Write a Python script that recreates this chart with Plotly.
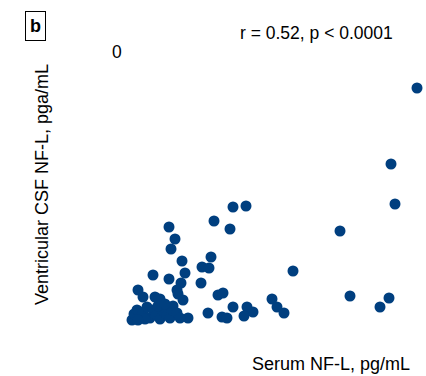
import plotly.graph_objects as go

serum_nfl = [148.5, 135.5, 137.5, 110, 86.5, 115, 134.5, 130, 63, 56.5, 47, 55, 24.5, 27.5, 25.5,
             45.5, 31, 41, 44.5, 32.5, 16.5, 24.5, 30.5, 40.5, 9, 11.5, 17.5, 20, 28.5, 29, 31.5,
             49, 51.5, 56.5, 63.5, 66.5, 62, 76, 78.5, 82, 44, 51, 53.5, 34, 26.5,
             6, 7, 8.5, 10, 11.5, 13.5, 15, 16.5, 18, 20, 21.5, 23.5, 25, 26, 28.5, 30, 12.5, 9, 19, 22.5]
csf_nfl = [2420, 1660, 1260, 990, 590, 340, 320, 230, 1240, 1230, 1090, 1010, 1030, 910, 810,
           730, 690, 630, 620, 570, 550, 510, 470, 470, 400, 330, 330, 310, 400, 360, 300,
           350, 370, 230, 230, 180, 140, 310, 230, 170, 170, 130, 120, 120, 240,
           100, 160, 200, 130, 180, 230, 120, 200, 150, 110, 190, 150, 120, 200, 170, 120, 110, 100, 240, 260]

W, H = 426, 376
FONT = "Liberation Sans, Arial, sans-serif"

fig = go.Figure()
fig.add_trace(go.Scatter(
    x=serum_nfl, y=csf_nfl, mode="markers",
    marker=dict(size=11, color="#003f7f", line=dict(width=0)),
    showlegend=False, hoverinfo="skip",
))

def px(xp):
    return xp / W

def py(yp):
    return 1 - yp / H

annos = [
    dict(x=px(35.5), y=py(26), text="<b>b</b>", font=dict(size=18, color="black", family=FONT),
         bordercolor="black", borderwidth=1, borderpad=4),
    dict(x=px(117), y=py(52), text="0", font=dict(size=17.5, color="black", family=FONT)),
    dict(x=px(316.5), y=py(33), text="r = 0.52, p < 0.0001", font=dict(size=17.5, color="black", family=FONT)),
    dict(x=px(331), y=py(364), text="Serum NF-L, pg/mL", font=dict(size=18, color="black", family=FONT)),
    dict(x=px(42), y=py(185), text="Ventricular CSF NF-L, pga/mL", textangle=-90,
         font=dict(size=18, color="black", family=FONT)),
]
for a in annos:
    a.update(xref="paper", yref="paper", showarrow=False, xanchor="center", yanchor="middle")

fig.update_layout(
    width=W, height=H,
    margin=dict(l=0, r=0, t=0, b=0),
    paper_bgcolor="white", plot_bgcolor="white",
    xaxis=dict(domain=[120 / W, 1], range=[0, 153], visible=False),
    yaxis=dict(domain=[0, 1], range=[-460, 3300], visible=False),
    annotations=annos,
)
fig.write_html("out.html")
